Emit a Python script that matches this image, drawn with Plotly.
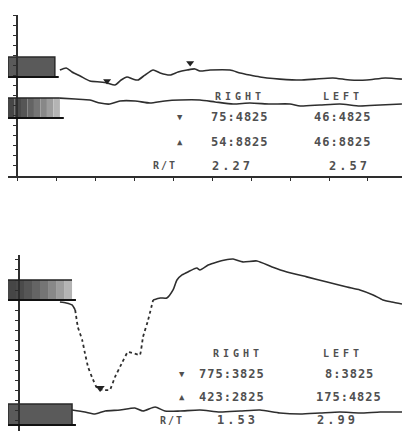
import plotly.graph_objects as go

# ---------------- data ----------------
# top panel, upper trace
top_a_t = [1.10, 1.26, 1.41, 1.62, 1.87, 2.13, 2.31, 2.51, 2.67, 2.82, 2.97, 3.10, 3.28, 3.49, 3.67,
           3.92, 4.13, 4.36, 4.56, 4.69, 4.95, 5.46, 5.72, 5.97, 6.23, 6.41, 6.74, 7.26, 7.64, 8.10,
           8.54, 8.97, 9.44, 9.87]
top_a_v = [6.58, 6.71, 6.46, 6.21, 5.90, 5.84, 5.78, 5.65, 5.96, 6.15, 6.02, 5.96, 6.27, 6.58, 6.40,
           6.27, 6.46, 6.58, 6.65, 6.52, 6.58, 6.58, 6.40, 6.27, 6.15, 6.09, 6.02, 5.96, 6.02, 6.09,
           5.96, 5.96, 6.09, 6.02]
top_marks_t = [2.31, 4.44]
top_marks_v = [5.90, 7.02]
# top panel, lower trace
top_b_t = [1.10, 1.49, 1.87, 2.13, 2.38, 2.64, 3.03, 3.41, 3.79, 4.18, 4.69, 5.08, 5.54, 5.97,
           6.49, 7.00, 7.26, 7.77, 8.28, 8.79, 9.31, 9.87]
top_b_v = [4.84, 4.78, 4.72, 4.53, 4.47, 4.66, 4.66, 4.53, 4.66, 4.72, 4.72, 4.60, 4.47, 4.53,
           4.47, 4.47, 4.35, 4.41, 4.47, 4.35, 4.41, 4.47]
# baseline boxes (t0, t1, v0, v1)
top_box1 = [-0.231, 0.97, 6.15, 7.39]
top_box2 = [-0.231, 1.10, 3.60, 4.84]

# bottom panel main trace: solid start, dotted fast part, solid end
bot_s1_t = [1.05, 1.21, 1.36, 1.44]
bot_s1_v = [8.01, 7.95, 7.83, 7.52]
bot_d_t = [1.44, 1.51, 1.62, 1.69, 1.77, 1.87, 2.00, 2.15, 2.33, 2.46, 2.64, 2.79, 2.92, 3.10,
           3.18, 3.31, 3.44]
bot_d_v = [7.52, 6.46, 5.65, 4.84, 3.98, 3.35, 2.67, 2.55, 2.55, 3.35, 4.22, 4.91, 4.84, 4.72,
           5.84, 6.89, 8.14]
bot_s2_t = [3.44, 3.62, 3.79, 3.95, 4.05, 4.18, 4.33, 4.56, 4.64, 4.85, 5.08, 5.28, 5.49, 5.74,
            6.10, 6.49, 6.87, 7.38, 7.90, 8.41, 8.74, 9.08, 9.33, 9.56, 9.82]
bot_s2_v = [8.14, 8.26, 8.26, 8.76, 9.38, 9.69, 9.88, 10.12, 10.00, 10.31, 10.50, 10.62, 10.68,
            10.50, 10.56, 10.19, 9.88, 9.57, 9.25, 8.94, 8.76, 8.45, 8.14, 8.01, 7.89]
bot_marks_t = [2.08]
bot_marks_v = [2.67]
# bottom panel lower trace
bot_b_t = [1.36, 1.69, 1.95, 2.21, 2.59, 2.97, 3.18, 3.49, 3.74, 4.13, 4.64, 5.15, 5.67, 6.18,
           6.69, 7.21, 7.72, 8.23, 8.74, 9.26, 9.82]
bot_b_v = [1.30, 1.18, 1.06, 1.24, 1.30, 1.43, 1.24, 1.49, 1.24, 1.24, 1.30, 1.18, 1.24, 1.30,
           1.12, 1.06, 1.12, 1.18, 1.12, 1.18, 1.18]
bot_box1 = [-0.282, 1.36, 8.14, 9.38]
bot_box2 = [-0.282, 1.36, 0.37, 1.68]

# table texts
col_heads = ["RIGHT", "LEFT"]
row_labels = ["▼", "▲", "R/T"]
top_right_vals = ["75:4825", "54:8825", "2.27"]
top_left_vals = ["46:4825", "46:8825", "2.57"]
bot_right_vals = ["775:3825", "423:2825", "1.53"]
bot_left_vals = ["8:3825", "175:4825", "2.99"]

# ---------------- figure ----------------
W, H = 402, 431
LC = "#2e2e2e"
fig = go.Figure()

def line(t, v, xa, ya, dash="solid", width=1.6, smooth=0.6):
    fig.add_trace(go.Scatter(x=t, y=v, mode="lines", xaxis=xa, yaxis=ya,
                             line=dict(color=LC, width=width, dash=dash, shape="spline", smoothing=smooth),
                             hoverinfo="skip", showlegend=False))

line(top_a_t, top_a_v, "x", "y")
line(top_b_t, top_b_v, "x", "y")
fig.add_trace(go.Scatter(x=top_marks_t, y=top_marks_v, mode="markers", xaxis="x", yaxis="y",
                         marker=dict(symbol="triangle-down", size=7, color="#222"), showlegend=False))
line(bot_s1_t, bot_s1_v, "x2", "y2")
line(bot_d_t, bot_d_v, "x2", "y2", dash="dot", width=1.8, smooth=0.3)
line(bot_s2_t, bot_s2_v, "x2", "y2")
line(bot_b_t, bot_b_v, "x2", "y2")
fig.add_trace(go.Scatter(x=bot_marks_t, y=bot_marks_v, mode="markers", xaxis="x2", yaxis="y2",
                         marker=dict(symbol="triangle-down", size=8, color="#222"), showlegend=False))

shapes = []
def box(b, xr, yr, fade=False):
    t0, t1, v0, v1 = b
    if fade:
        n = 8
        for i in range(n):
            a = t0 + (t1 - t0) * i / n
            c = t0 + (t1 - t0) * (i + 1) / n
            g = int(70 + 110 * (i / (n - 1)) ** 1.5)
            shapes.append(dict(type="rect", xref=xr, yref=yr, x0=a, x1=c, y0=v0, y1=v1,
                               fillcolor=f"rgb({g},{g},{g})", line=dict(width=0), layer="below"))
        shapes.append(dict(type="line", xref=xr, yref=yr, x0=t0, x1=t1, y0=v1, y1=v1,
                           line=dict(color="#222", width=1.5)))
    else:
        shapes.append(dict(type="rect", xref=xr, yref=yr, x0=t0, x1=t1, y0=v0, y1=v1,
                           fillcolor="#5a5a5a", line=dict(color="#2a2a2a", width=1.5), layer="below"))
    shapes.append(dict(type="line", xref=xr, yref=yr, x0=t0, x1=t1 + 0.1, y0=v0, y1=v0,
                       line=dict(color="#111", width=2)))

box(top_box1, "x", "y")
box(top_box2, "x", "y", fade=True)
box(bot_box1, "x2", "y2", fade=True)
box(bot_box2, "x2", "y2")

fig.update_layout(shapes=shapes)

anns = []
FONT = dict(family="DejaVu Sans Mono", size=10, color="#505050")
def txt(x_px, y_px, s, size=10, spacing=0):
    f = dict(FONT); f["size"] = size
    body = f"<b>{s}</b>"
    if spacing:
        body = f'<span style="letter-spacing:{spacing}px">{body}</span>'
    anns.append(dict(x=x_px / W, y=1 - y_px / H, xref="paper", yref="paper", text=body,
                     showarrow=False, font=f, xanchor="center", yanchor="middle"))

# top table
txt(240, 97, col_heads[0], 10, 4); txt(343, 97, col_heads[1], 10, 4)
for i, yp in enumerate([117, 142, 166]):
    txt(180 if i < 2 else 165, yp, row_labels[i], 9 if i < 2 else 10, 1 if i < 2 else 2)
    txt(240 if i < 2 else 232, yp, top_right_vals[i], 12, 1 if i < 2 else 3)
    txt(343 if i < 2 else 349, yp, top_left_vals[i], 12, 1 if i < 2 else 3)
# bottom table
txt(238, 353, col_heads[0], 10, 4); txt(343, 353, col_heads[1], 10, 4)
for i, yp in enumerate([374, 397, 420]):
    txt(182 if i < 2 else 172, yp, row_labels[i], 9 if i < 2 else 10, 1 if i < 2 else 2)
    txt(232 if i < 2 else 237, yp, bot_right_vals[i], 12, 1 if i < 2 else 3)
    txt(349 if i < 2 else 337, yp, bot_left_vals[i], 12, 1 if i < 2 else 3)
fig.update_layout(annotations=anns)

ax_common = dict(showgrid=False, zeroline=False, fixedrange=True)
fig.update_layout(
    width=W, height=H, margin=dict(l=0, r=0, t=0, b=0),
    paper_bgcolor="white", plot_bgcolor="rgba(0,0,0,0)",
    xaxis=dict(domain=[8 / W, 1], range=[-0.231, 9.872], anchor="y", showline=True,
               linecolor=LC, linewidth=1.5, tickmode="linear", tick0=0, dtick=1,
               ticks="outside", ticklen=3, tickcolor=LC, showticklabels=False, **ax_common),
    yaxis=dict(domain=[(H - 176) / H, (H - 15) / H], range=[0, 10], anchor="free",
               position=17 / W, showline=True, linecolor=LC, linewidth=1.5,
               tickmode="linear", tick0=0, dtick=0.625, ticks="outside", ticklen=3,
               tickcolor=LC, showticklabels=False, **ax_common),
    xaxis2=dict(domain=[8 / W, 1], range=[-0.282, 9.82], anchor="y2", showline=False,
                showticklabels=False, **ax_common),
    yaxis2=dict(domain=[0, (H - 255) / H], range=[0, 10.93], anchor="free",
                position=19 / W, showline=True, linecolor=LC, linewidth=1.5,
                tickmode="linear", tick0=0, dtick=0.625, ticks="outside", ticklen=3,
                tickcolor=LC, showticklabels=False, **ax_common),
)

fig.write_html("out.html", config={"displayModeBar": False},
               post_script="document.body.style.margin='0';document.body.style.overflow='hidden';")
